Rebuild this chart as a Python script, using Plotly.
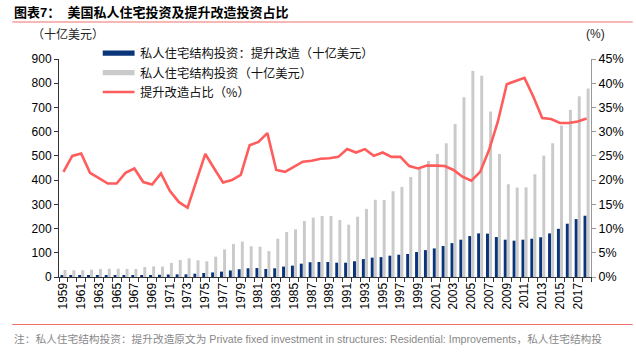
import plotly.graph_objects as go

years = list(range(1959, 2019))

improvements = [6.3, 7.0, 7.1, 6.5, 6.7, 6.6, 6.6, 7.1, 7.4, 8.0, 8.4, 9.2, 10.3, 10.9, 11.0, 13.6, 16.5, 18.8, 22.2, 27,
                32, 36, 37, 33, 36, 43, 47, 55, 61, 62, 62, 59, 59, 65, 74, 80, 82, 88, 92, 95,
                103, 111, 118, 128, 140, 154, 169, 180, 179, 165, 154, 150, 154, 158, 164, 180, 199, 220, 239, 253]

total = [29, 28, 28, 30, 33, 34, 34, 33, 33, 41, 44, 43, 58, 70, 77, 69, 65, 84, 114, 136,
         146, 127, 125, 107, 158, 186, 197, 231, 245, 252, 252, 235, 216, 249, 281, 319, 318, 354, 372, 413,
         449, 479, 508, 552, 632, 742, 851, 831, 683, 508, 383, 369, 370, 424, 501, 552, 625, 690, 746, 778]

share_pct = [21.7, 25.0, 25.5, 21.5, 20.4, 19.3, 19.3, 21.5, 22.4, 19.6, 19.1, 21.4, 17.8, 15.5, 14.3, 19.7, 25.4, 22.4, 19.5, 20.0,
             21.1, 27.2, 27.9, 29.7, 22.1, 21.7, 22.8, 23.8, 24.0, 24.4, 24.5, 24.8, 26.4, 25.7, 26.4, 25.0, 25.7, 24.8, 24.8, 22.9,
             22.4, 23.0, 23.0, 22.9, 22.1, 20.7, 19.9, 21.7, 26.2, 32.1, 39.8, 40.5, 41.1, 37.2, 32.8, 32.6, 31.8, 31.8, 32.1, 32.7]

label_years = [y for y in years if (y - 1959) % 2 == 0]

name_imp = "私人住宅结构投资：提升改造（十亿美元）"
name_tot = "私人住宅结构投资（十亿美元）"
name_share = "提升改造占比（%）"

BLUE = "#0a357a"
GREY = "#cacaca"
RED = "#ff5c5c"
CJK = "Noto Sans CJK SC"
NUM = "Liberation Sans"
MIX = "Liberation Sans, Noto Sans CJK SC"

fig = go.Figure()
fig.add_trace(go.Bar(x=years, y=improvements, name=name_imp, marker_color=BLUE, marker_line_width=0))
fig.add_trace(go.Bar(x=years, y=total, name=name_tot, marker_color=GREY, marker_line_width=0))
fig.add_trace(go.Scatter(x=years, y=share_pct, name=name_share, mode="lines",
                         line=dict(color=RED, width=2.6), yaxis="y2"))

fig.update_layout(
    width=636, height=354,
    margin=dict(l=59, r=42, t=59, b=77),
    paper_bgcolor="white", plot_bgcolor="white",
    barmode="group", bargap=0.3, bargroupgap=0.05,
    showlegend=False,
    font=dict(family=NUM, size=12, color="#000"),
    xaxis=dict(
        range=[1958.5, 2018.5], tickmode="array", tickvals=label_years,
        ticktext=[str(y) for y in label_years], tickangle=-90,
        ticks="", showline=True, linecolor="#333", linewidth=1,
        showgrid=False, zeroline=False,
        tickfont=dict(family=NUM, size=12, color="#000"),
        minor=dict(ticks="outside", tick0=1958.5, dtick=1, ticklen=4, tickcolor="#333", showgrid=False),
    ),
    yaxis=dict(
        range=[0, 900], dtick=100, ticks="outside", ticklen=4, tickcolor="#333",
        showline=True, linecolor="#333", linewidth=1, showgrid=False, zeroline=False,
        tickfont=dict(family=NUM, size=12, color="#000"),
    ),
    yaxis2=dict(
        range=[0, 45], dtick=5, ticksuffix="%", overlaying="y", side="right",
        ticks="outside", ticklen=4, tickcolor="#999",
        showline=True, linecolor="#999", linewidth=1, showgrid=False, zeroline=False,
        tickfont=dict(family=NUM, size=12.5, color="#000"),
    ),
)


def px_x(x):
    return (x - 59) / 535


def px_y(y):
    return (277 - y) / 218


shapes = [
    dict(type="line", xref="paper", yref="paper", x0=px_x(12), x1=px_x(636), y0=px_y(22), y1=px_y(22),
         line=dict(color="#f07070", width=1.2)),
    dict(type="line", xref="paper", yref="paper", x0=px_x(12), x1=px_x(636), y0=px_y(324.5), y1=px_y(324.5),
         line=dict(color="#f07070", width=1.2)),
    dict(type="rect", xref="paper", yref="paper", x0=px_x(103), x1=px_x(135), y0=px_y(55.7), y1=px_y(50.5),
         fillcolor=BLUE, line=dict(width=0)),
    dict(type="rect", xref="paper", yref="paper", x0=px_x(103), x1=px_x(135), y0=px_y(75.3), y1=px_y(70),
         fillcolor=GREY, line=dict(width=0)),
    dict(type="line", xref="paper", yref="paper", x0=px_x(103), x1=px_x(135), y0=px_y(92), y1=px_y(92),
         line=dict(color=RED, width=2.6)),
]
fig.update_layout(shapes=shapes)

anns = [
    dict(text="<b>图表7：  美国私人住宅投资及提升改造投资占比</b>", x=px_x(12), y=px_y(13), xanchor="left", yanchor="middle",
         font=dict(family=MIX, size=13, color="#000")),
    dict(text="（十亿美元）", x=px_x(30), y=px_y(34), xanchor="left", yanchor="middle",
         font=dict(family=CJK, size=12, color="#222")),
    dict(text="(%)", x=px_x(599), y=px_y(34), xanchor="center", yanchor="middle",
         font=dict(family=NUM, size=12, color="#222")),
    dict(text=name_imp, x=px_x(138), y=px_y(53), xanchor="left", yanchor="middle",
         font=dict(family=CJK, size=12.3, color="#111")),
    dict(text=name_tot, x=px_x(138), y=px_y(72.5), xanchor="left", yanchor="middle",
         font=dict(family=CJK, size=12.3, color="#111")),
    dict(text=name_share, x=px_x(138), y=px_y(92), xanchor="left", yanchor="middle",
         font=dict(family=CJK, size=12.3, color="#111")),
    dict(text="注：私人住宅结构投资：提升改造原文为 Private fixed investment in structures: Residential: Improvements，私人住宅结构投",
         x=px_x(12), y=px_y(339), xanchor="left", yanchor="middle",
         font=dict(family=MIX, size=10.7, color="#888")),
]
for a in anns:
    a.update(xref="paper", yref="paper", showarrow=False)
fig.update_layout(annotations=anns)

fig.write_html("out.html")
